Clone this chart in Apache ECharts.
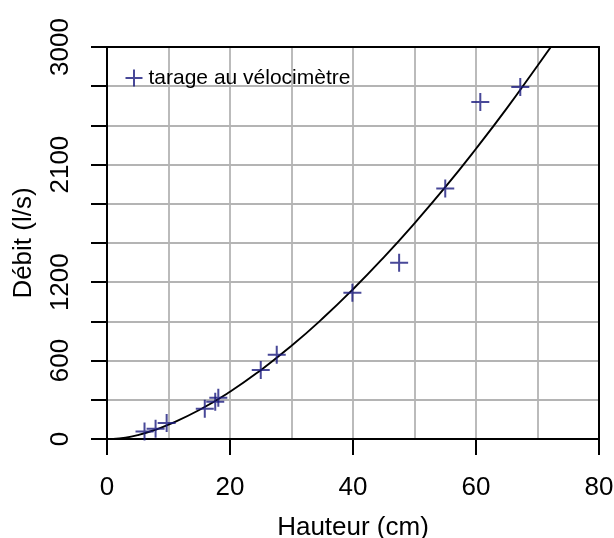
<!DOCTYPE html>
<html>
<head>
<meta charset="utf-8">
<script src="https://cdn.jsdelivr.net/npm/echarts@6/dist/echarts.min.js"></script>
<style>
  html, body { margin: 0; padding: 0; background: #fff; }
  #chart { width: 614px; height: 538px; }
</style>
</head>
<body>
<div id="chart"></div>
<script>
// mesures au vélocimètre (hauteur en cm, débit en l/s)
const hauteurs = [6.1, 7.9, 9.7, 15.9, 17.6, 18.1, 25.0, 27.6, 39.9, 47.5, 55.0, 60.7, 67.2];
const debits = [58, 79, 122, 231, 285, 315, 529, 644, 1120, 1349, 1917, 2579, 2694];

// courbe de tarage
const courbeH = [1, 3, 5, 7.5, 10, 15, 20, 25, 30, 35, 40, 45, 50, 55, 60, 65, 70, 73];
const courbeQ = [0, 10, 30, 65, 110, 222, 362, 527, 713, 920, 1146, 1390, 1651, 1927, 2221, 2530, 2857, 3055];

const yLabels = [0, 600, 1200, 2100, 3000];

const font = "Liberation Sans, Arial, sans-serif";
const chart = echarts.init(document.getElementById("chart"));

const points = hauteurs.map((h, i) => [h, debits[i]]);
const courbe = courbeH.map((h, i) => [h, courbeQ[i]]);

const option = {
  animation: false,
  grid: { left: 107, right: 15, top: 47, bottom: 99, outerBoundsMode: "none", containLabel: false },
  legend: {
    data: ["tarage au vélocimètre"],
    left: 118,
    top: 62,
    itemWidth: 17,
    itemHeight: 17,
    textStyle: { fontFamily: font, fontSize: 21, color: "#000", padding: [0, 0, 0, 1] },
  },
  xAxis: [
    {
      type: "value",
      min: 0,
      max: 80,
      interval: 20,
      name: "Hauteur (cm)",
      nameLocation: "middle",
      nameGap: 76,
      nameTextStyle: { fontFamily: font, fontSize: 26, color: "#000" },
      axisLine: { show: true, onZero: false, lineStyle: { color: "#000", width: 2 } },
      axisTick: { show: true, inside: false, length: 16, lineStyle: { color: "#000", width: 2 } },
      axisLabel: { fontFamily: font, fontSize: 26, color: "#000", margin: 36 },
      splitLine: { show: true, showMinLine: false, showMaxLine: false, lineStyle: { color: "#b4b4b4", width: 1.8 } },
      minorTick: { show: false, splitNumber: 2 },
      minorSplitLine: { show: true, lineStyle: { color: "#b4b4b4", width: 1.8 } },
    },
    {
      type: "value",
      position: "top",
      min: 0,
      max: 80,
      axisLine: { show: true, onZero: false, lineStyle: { color: "#000", width: 2 } },
      axisTick: { show: false },
      axisLabel: { show: false },
      splitLine: { show: false },
    },
  ],
  yAxis: [
    {
      type: "value",
      min: 0,
      max: 3000,
      interval: 300,
      name: "Débit (l/s)",
      nameLocation: "middle",
      nameGap: 70,
      nameTextStyle: { fontFamily: font, fontSize: 26, color: "#000" },
      axisLine: { show: true, onZero: false, lineStyle: { color: "#000", width: 2 } },
      axisTick: { show: true, inside: false, length: 16, lineStyle: { color: "#000", width: 2 } },
      axisLabel: {
        fontFamily: font,
        fontSize: 26,
        color: "#000",
        rotate: 90,
        margin: 33,
        formatter: (v) => (yLabels.includes(v) ? String(v) : ""),
      },
      splitLine: { show: true, showMinLine: false, showMaxLine: false, lineStyle: { color: "#b4b4b4", width: 1.8 } },
    },
    {
      type: "value",
      position: "right",
      min: 0,
      max: 3000,
      axisLine: { show: true, onZero: false, lineStyle: { color: "#000", width: 2 } },
      axisTick: { show: false },
      axisLabel: { show: false },
      splitLine: { show: false },
    },
  ],
  series: [
    {
      name: "courbe",
      type: "line",
      data: courbe,
      smooth: true,
      showSymbol: false,
      clip: true,
      lineStyle: { color: "#000", width: 1.9 },
      z: 3,
    },
    {
      name: "tarage au vélocimètre",
      type: "scatter",
      data: points,
      symbol: "path://M0,-10L0,10M-10,0L10,0",
      symbolSize: 18,
      itemStyle: { color: "none", borderColor: "#1a1a7e", borderWidth: 2 },
      z: 4,
    },
  ],
};

chart.setOption(option);
</script>
</body>
</html>
